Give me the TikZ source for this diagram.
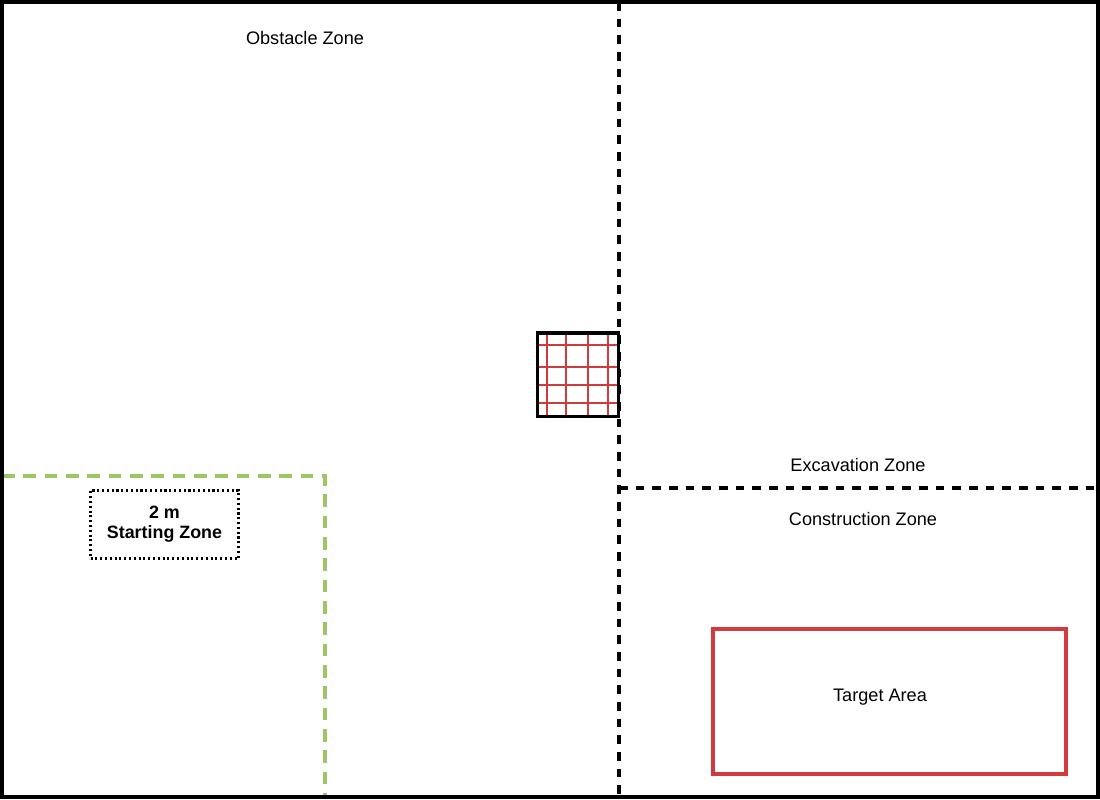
\documentclass[tikz,border=0pt]{standalone}
\usepackage{fontspec}
\setmainfont{Liberation Sans}
\definecolor{zonegreen}{HTML}{9CC564}
\definecolor{zonered}{HTML}{D13B3B}
\tikzset{
  zonelabel/.style={inner sep=0pt, font=\fontsize{13.6}{15}\selectfont},
  zoneline/.style={line width=2.8pt, dash pattern=on 6.5pt off 6pt},
  startline/.style={zonegreen, line width=2.8pt, dash pattern=on 9.5pt off 6.5pt},
  startbox/.style={draw, dotted, line width=1.6pt, minimum width=111pt, minimum height=51pt,
    align=center, font=\fontsize{13.4}{15}\selectfont\bfseries},
  targetbox/.style={draw=zonered, line width=2.6pt, minimum width=265pt, minimum height=109pt}
}
\begin{document}
\begin{tikzpicture}[x=0.75pt, y=-0.75pt]
  \useasboundingbox (0,0) rectangle (1100,800);
  \fill[white] (0,0) rectangle (1100,800);
  \coordinate (nw) at (2,2);
  \coordinate (se) at (1098,797);
  \coordinate (midtop) at (619,2);
  \coordinate (midbot) at (619,797);
  \coordinate (exc) at (619,488);
  \coordinate (excend) at (1098,488);
  \coordinate (startw) at (2,476);
  \coordinate (startc) at (325,476);
  \coordinate (starts) at (325,797);
  % zone borders
  \draw[zoneline] (midtop) -- (midbot);
  \draw[zoneline] (exc) -- (excend);
  \draw[startline] (startw) -- (startc) -- (starts);
  % grid square
  \begin{scope}[zonered, line width=1.7pt]
    \foreach \gx in {547,566,588,608}
      \draw (\gx,333) -- (\gx,417);
    \foreach \gy in {345,367,385,403}
      \draw (537,\gy) -- (619,\gy);
  \end{scope}
  \draw[line width=2.6pt] (537.5,333) rectangle (618.5,416.5);
  \draw[line width=2.4pt] (nw) rectangle (se);
  % labels
  \node[zonelabel] (obstacle) at (305,38) {Obstacle Zone};
  \node[zonelabel] (excavation) at (858,465) {Excavation Zone};
  \node[zonelabel] (construction) at (863,519) {Construction Zone};
  \node[startbox] (start) at (164.5,524.5) {2 m\\Starting Zone};
  \node[targetbox] (target) at (889.5,701.5) {};
  \node[zonelabel] (targetlabel) at (880,697) {Target Area};
\end{tikzpicture}
\end{document}
